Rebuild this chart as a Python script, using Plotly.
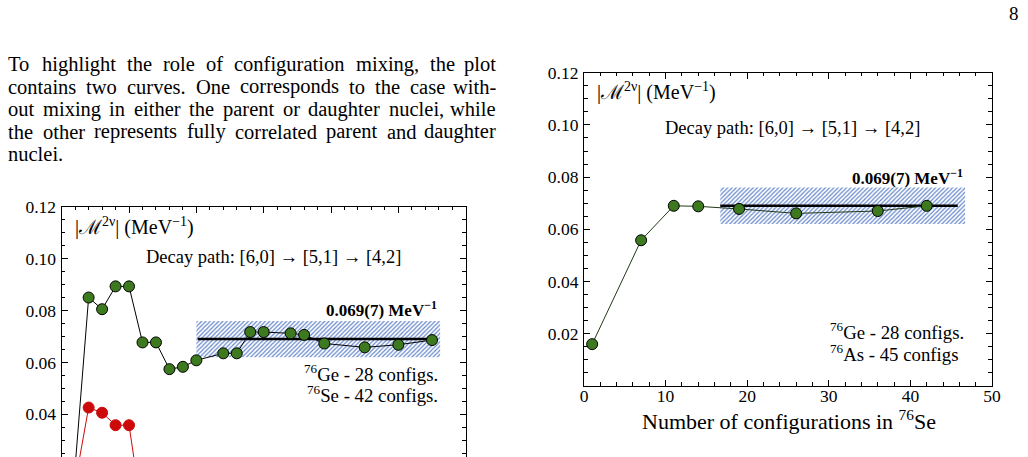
import plotly.graph_objects as go

W, H = 1028, 457

# ---------------- data ----------------
# right panel: number of configurations in 76Se vs |M^2nu|
right_x = [1, 7, 11, 14, 19, 26, 36, 42]
right_y = [0.0160, 0.0558, 0.0690, 0.0688, 0.0678, 0.0661, 0.0670, 0.0690]

# left panel: fully correlated (green) and no mixing (red)
left_x_mix = [1, 2, 3, 4, 5, 6, 7, 8, 9, 10, 12, 13, 14, 15, 17, 18, 19.5, 22.5, 25, 27.5]
left_y_mix = [0.0200, 0.0850, 0.0805, 0.0893, 0.0893, 0.0677, 0.0677, 0.0574, 0.0583, 0.0608,
              0.0635, 0.0635, 0.0717, 0.0717, 0.0712, 0.0706, 0.0673, 0.0658, 0.0668, 0.0686]
left_x_nomix = [1, 2, 3, 4, 5, 6]
left_y_nomix = [0.0136, 0.0426, 0.0406, 0.0358, 0.0358, 0.0010]

# extrapolated value 0.069(7)
band_value = 0.069
band_err = 0.007
right_band_x = [16.7, 46.7]
right_line_x = [16.7, 45.8]
left_band_x = [10.0, 28.1]
left_line_x = [10.1, 27.85]

right_yticks = [0.02, 0.04, 0.06, 0.08, 0.10, 0.12]
left_yticks = [0.04, 0.06, 0.08, 0.10, 0.12]

paragraph = [
    "To highlight the role of configuration mixing, the plot",
    "contains two curves. One corresponds to the case with-",
    "out mixing in either the parent or daughter nuclei, while",
    "the other represents fully correlated parent and daughter",
    "nuclei.",
]

# ---------------- style ----------------
GREEN = "#3d7a1f"
RED = "#cc0a0a"
HATCH = "#6688cc"
SERIF = "Liberation Serif, Times New Roman, serif"

# approximate advance widths (em) of Liberation Serif, used to justify the paragraph
CHAR_W = dict(zip("abcdefghijklmnopqrstuvwxyz",
                  [.444, .5, .444, .5, .444, .333, .5, .5, .278, .278, .5, .278, .778,
                   .5, .5, .5, .5, .333, .389, .278, .5, .5, .722, .5, .5, .444]))
CHAR_W.update({"T": .611, "O": .722, ",": .25, ".": .25, "-": .333, " ": .25})


def text_w(s, size):
    return sum(CHAR_W.get(c, .5) for c in s) * size


def px_x(p):
    return p / W


def px_y(p):
    return 1 - p / H


fig = go.Figure()


def band(xr, xa, ya):
    lo, hi = band_value - band_err, band_value + band_err
    fig.add_trace(go.Scatter(
        x=[xr[0], xr[1], xr[1], xr[0], xr[0]], y=[lo, lo, hi, hi, lo],
        xaxis=xa, yaxis=ya, mode="lines", fill="toself", line=dict(width=0),
        fillcolor="white",
        fillpattern=dict(shape="/", fgcolor=HATCH, bgcolor="white", size=3, solidity=0.4),
        hoverinfo="skip", showlegend=False))


def hline(xr, xa, ya):
    fig.add_trace(go.Scatter(
        x=xr, y=[band_value, band_value], xaxis=xa, yaxis=ya, mode="lines",
        line=dict(color="black", width=2.6), hoverinfo="skip", showlegend=False))


def series(x, y, xa, ya, fill, linecolor, edge):
    fig.add_trace(go.Scatter(
        x=x, y=y, xaxis=xa, yaxis=ya, mode="lines+markers",
        line=dict(color=linecolor, width=1),
        marker=dict(size=11, color=fill, line=dict(color=edge, width=1)),
        cliponaxis=True, showlegend=False))


# left panel (x, y)
band(left_band_x, "x", "y")
hline(left_line_x, "x", "y")
series(left_x_nomix, left_y_nomix, "x", "y", RED, RED, RED)
series(left_x_mix, left_y_mix, "x", "y", GREEN, "black", "black")

# right panel (x2, y2)
band(right_band_x, "x2", "y2")
hline(right_line_x, "x2", "y2")
series(right_x, right_y, "x2", "y2", GREEN, "#22391a", "black")

# axes geometry (pixels)
L_left, L_right, L_top = 61.7, 465.7, 206.7
L_px_per_unit = 2595.0
L_zero = 518.1
R_left, R_right, R_top, R_bottom = 584.0, 992.0, 72.7, 385.9

left_ymin = (L_zero - H) / L_px_per_unit

axis_common = dict(showline=True, linecolor="black", linewidth=1.2, showgrid=False,
                   zeroline=False, ticks="inside", ticklen=6, tickwidth=1.1, tickcolor="black",
                   automargin=False,
                   tickfont=dict(family=SERIF, size=17.5, color="black"))
minor_common = dict(ticks="inside", ticklen=3.5, tickcolor="black", tickwidth=1, tick0=0)

fig.update_layout(
    template="none",
    width=W, height=H, margin=dict(l=0, r=0, t=0, b=0, autoexpand=False),
    paper_bgcolor="white", plot_bgcolor="white", showlegend=False,
    xaxis=dict(domain=[px_x(L_left), px_x(L_right)], range=[0, 30], anchor="y", side="top",
               dtick=5, tick0=0, showticklabels=False, mirror=False,
               minor=dict(dtick=1, **minor_common), **axis_common),
    yaxis=dict(domain=[0, px_y(L_top)], range=[left_ymin, 0.12], anchor="x",
               tickmode="array", tickvals=left_yticks, ticktext=[f"{v:.2f}" for v in left_yticks],
               mirror="allticks", ticklabelstandoff=1,
               minor=dict(dtick=0.005, **minor_common), **axis_common),
    xaxis2=dict(domain=[px_x(R_left), px_x(R_right)], range=[0, 50], anchor="y2",
                dtick=10, tick0=0, mirror="allticks", ticklabelstandoff=-6,
                minor=dict(dtick=2, **minor_common), **axis_common),
    yaxis2=dict(domain=[px_y(R_bottom), px_y(R_top)], range=[0, 0.12], anchor="x2",
                tickmode="array", tickvals=right_yticks, ticktext=[f"{v:.2f}" for v in right_yticks],
                mirror="allticks", ticklabelstandoff=1,
                minor=dict(dtick=0.005, **minor_common), **axis_common),
)

annotations = []


def ann(text, x, y, xanchor="left", size=18, bold=False, pad=1):
    annotations.append(dict(text=text, x=px_x(x), y=px_y(y), xref="paper", yref="paper",
                            xanchor=xanchor, yanchor="middle", showarrow=False, borderpad=pad,
                            font=dict(family=SERIF, size=size, color="black",
                                      weight="bold" if bold else "normal")))


# paragraph text, justified word by word between x0 and x1
PARA_SIZE = 20.5
x0, x1 = 7.0, 497.0
para_centers = [64.2, 86.7, 109.2, 131.7, 154.2]
for i, (line, yc) in enumerate(zip(paragraph, para_centers)):
    words = line.split()
    widths = [text_w(w, PARA_SIZE) for w in words]
    if i < len(paragraph) - 1 and len(words) > 1:
        gap = (x1 - x0 - sum(widths)) / (len(words) - 1)
    else:
        gap = CHAR_W[" "] * PARA_SIZE * 1.3
    xp = x0
    for j, (w, ww) in enumerate(zip(words, widths)):
        if i < len(paragraph) - 1 and j == len(words) - 1:
            ann(w, x1, yc, "right", PARA_SIZE, pad=0)
        else:
            ann(w, xp, yc, "left", PARA_SIZE, pad=0)
        xp += ww + gap

# page number
ann("8", 1020, 14, "right", 19, pad=0)

mlabel = "|ℳ<sup>2ν</sup>| (MeV<sup>−1</sup>)"
decay = "Decay path: [6,0] → [5,1] → [4,2]"
value_lbl = "0.069(7) MeV<sup>−1</sup>"

# left panel labels
ann(mlabel, 73, 226.7, "left", 20)
ann(decay, 273, 256.7, "center", 18.5)
ann(value_lbl, 439, 309.3, "right", 17, bold=True)
ann("<sup>76</sup>Ge - 28 configs.", 440, 372.7, "right", 18.8)
ann("<sup>76</sup>Se - 42 configs.", 440, 394, "right", 18.8)

# right panel labels
ann(mlabel, 595, 91.7, "left", 20)
ann(decay, 792.7, 128.3, "center", 18.5)
ann(value_lbl, 965, 177.3, "right", 17, bold=True)
ann("<sup>76</sup>Ge - 28 configs.", 966, 330.7, "right", 18.8)
ann("<sup>76</sup>As - 45 configs", 960, 352.7, "right", 18.8)
ann("Number of configurations in <sup>76</sup>Se", 789, 420, "center", 22)

fig.update_layout(annotations=annotations)

fig.write_html("out.html")
